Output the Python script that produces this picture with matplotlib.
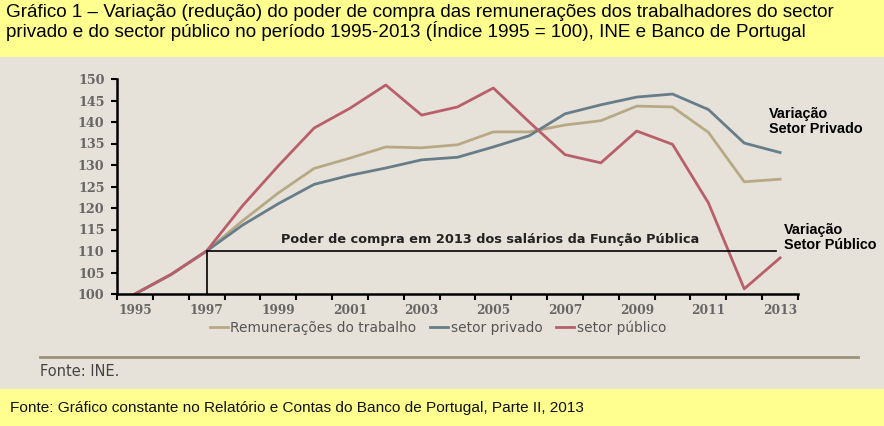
import numpy as np
import matplotlib
matplotlib.use('Agg')
import matplotlib.pyplot as plt
from matplotlib.patches import Rectangle
from matplotlib.lines import Line2D

anos = list(range(1995, 2014))
remuneracoes = [100, 104.5, 110, 117, 123.5, 129.2, 131.6, 134.2, 134.0, 134.7,
                137.7, 137.7, 139.3, 140.3, 143.7, 143.5, 137.6, 126.1, 126.7]
setor_privado = [100, 104.5, 110, 116, 121, 125.5, 127.6, 129.3, 131.2, 131.8,
                 134.2, 136.8, 141.9, 144.0, 145.8, 146.5, 142.9, 135.1, 132.9]
setor_publico = [100, 104.5, 110, 120.5, 129.8, 138.6, 143.2, 148.6, 141.6, 143.5,
                 147.9, 140.0, 132.4, 130.5, 137.9, 134.8, 121.2, 101.2, 108.4]
referencia = 110

titulo = ('Gráfico 1 – Variação (redução) do poder de compra das remunerações dos trabalhadores do sector\n'
          'privado e do sector público no período 1995-2013 (Índice 1995 = 100), INE e Banco de Portugal')
rodape = 'Fonte: Gráfico constante no Relatório e Contas do Banco de Portugal, Parte II, 2013'

fundo = '#e7e2d9'
amarelo = '#ffff8f'
cor_rem = '#b8a985'
cor_priv = '#687d8a'
cor_pub = '#b85f6a'

fig = plt.figure(figsize=(8.84, 4.26), dpi=100)
fig.patch.set_facecolor(fundo)

# faixas amarelas
fig.add_artist(Rectangle((0, 1 - 57 / 426), 1, 57 / 426, transform=fig.transFigure,
                         facecolor=amarelo, edgecolor='none'))
fig.add_artist(Rectangle((0, 0), 1, 37 / 426, transform=fig.transFigure,
                         facecolor=amarelo, edgecolor='none'))
fig.text(6 / 884, 1 - 4 / 426, titulo, ha='left', va='top', fontsize=13.6,
         family='Liberation Sans', linespacing=1.0)
fig.text(10 / 884, 18 / 426, rodape, ha='left', va='center', fontsize=11.1,
         family='Liberation Sans', color='#111111')

ax = fig.add_axes([117 / 884, 1 - 294 / 426, (798 - 117) / 884, (294 - 79) / 426])
ax.set_facecolor(fundo)

x = np.arange(len(anos))
ax.plot(x, remuneracoes, color=cor_rem, lw=2)
ax.plot(x, setor_privado, color=cor_priv, lw=2)
ax.plot(x, setor_publico, color=cor_pub, lw=2)

# linha de referência
ax.plot([2, 2], [100, referencia], color='black', lw=1.2)
ax.plot([2, 17.9], [referencia, referencia], color='black', lw=1.2)
ax.text(9.9, 112.6, 'Poder de compra em 2013 dos salários da Função Pública',
        ha='center', va='center', fontsize=9.3, fontweight='bold', family='DejaVu Sans',
        color='#222222')

ax.set_xlim(-0.5, 18.5)
ax.set_ylim(100, 150)
ax.set_xticks(np.arange(-0.5, 19, 1))
ax.set_xticklabels([])
ax.set_xticks(x[::2], minor=True)
ax.set_xticklabels([str(a) for a in anos[::2]], minor=True)
ax.tick_params(axis='x', which='major', length=4, width=1.5, direction='out')
ax.tick_params(axis='x', which='minor', length=0, pad=7, labelsize=8.8, labelcolor='#666666')
ax.set_yticks(np.arange(100, 151, 5))
ax.tick_params(axis='y', length=4, width=1.5, labelsize=9.2, labelcolor='#666666', pad=5)
for lab in ax.get_xticklabels(minor=True) + ax.get_yticklabels():
    lab.set_family('DejaVu Serif')
    lab.set_fontweight('bold')
for s in ['top', 'right']:
    ax.spines[s].set_visible(False)
for s in ['left', 'bottom']:
    ax.spines[s].set_linewidth(1.8)
    ax.spines[s].set_color('black')

ax.text(17.7, 143.6, 'Variação\nSetor Privado', ha='left', va='top', fontsize=10.4,
        fontweight='bold', family='Liberation Sans', clip_on=False, linespacing=1.15)
ax.text(18.1, 116.6, 'Variação\nSetor Público', ha='left', va='top', fontsize=10.4,
        fontweight='bold', family='Liberation Sans', clip_on=False, linespacing=1.15)

handles = [Line2D([], [], color=cor_rem, lw=2),
           Line2D([], [], color=cor_priv, lw=2),
           Line2D([], [], color=cor_pub, lw=2)]
fig.legend(handles, ['Remunerações do trabalho', 'setor privado', 'setor público'],
           loc='center', bbox_to_anchor=(438 / 884, 1 - 328 / 426), ncol=3, frameon=False,
           fontsize=9.9, handlelength=1.3, handletextpad=0.2, columnspacing=1.0,
           labelcolor='#555555')

fig.add_artist(Line2D([40 / 884, 858 / 884], [1 - 357 / 426, 1 - 357 / 426],
                      transform=fig.transFigure, color='#9a9278', lw=2))
fig.text(40 / 884, 1 - 372 / 426, 'Fonte: INE.', ha='left', va='center', fontsize=10.5,
         family='DejaVu Sans', color='#444444')

fig.savefig('out.png', dpi=100, facecolor=fig.get_facecolor())
